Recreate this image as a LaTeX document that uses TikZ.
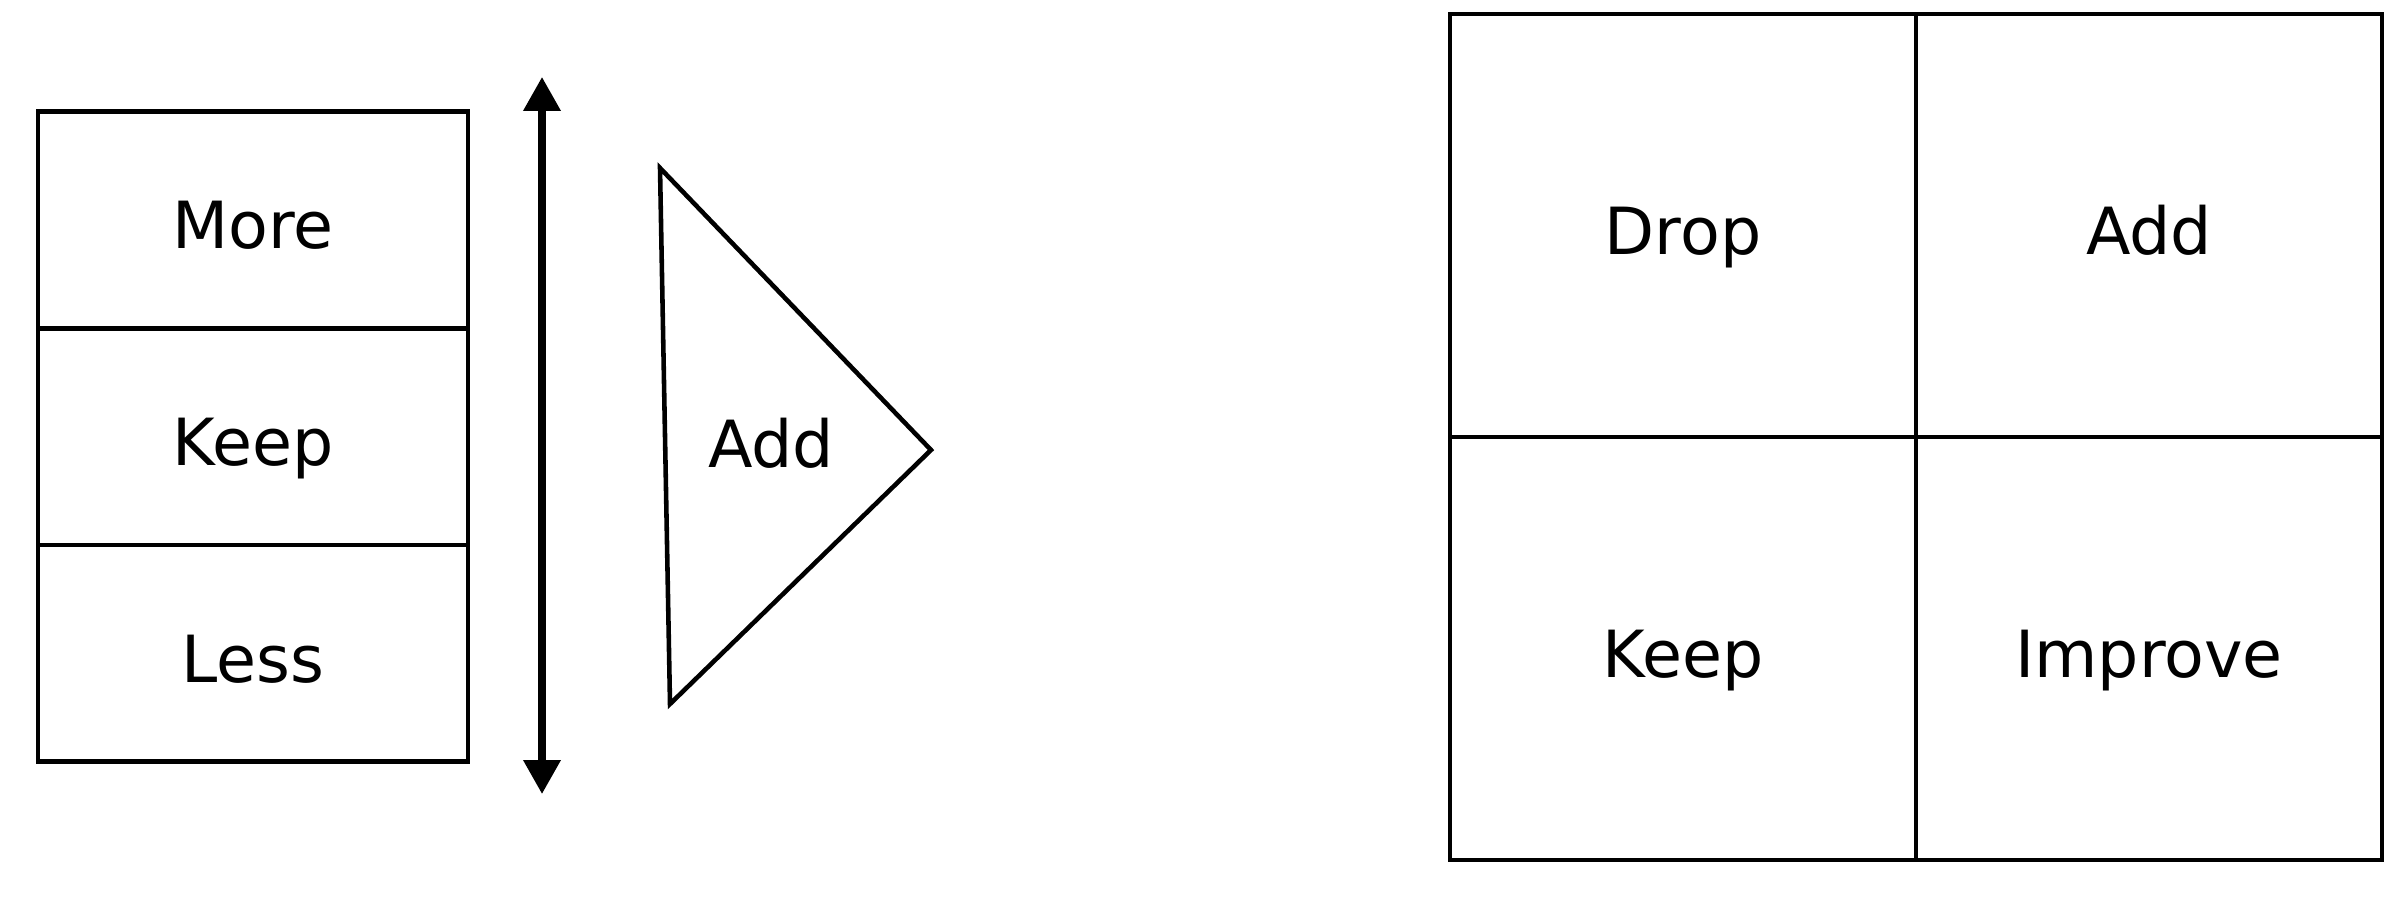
\documentclass[tikz,border=0pt]{standalone}
\usepackage{fontspec}
\setmainfont{DejaVu Sans}
\usetikzlibrary{arrows.meta}
\tikzstyle{cell}=[rectangle,draw=black,line width=1.3pt,inner sep=0pt,
  outer sep=0pt,font=\fontsize{18.5}{22}\selectfont,
  text height=18pt,text depth=1.6pt]
\tikzstyle{sc}=[cell,minimum width=4.3cm,minimum height=2.167cm]
\tikzstyle{qc}=[cell,minimum width=4.66cm,minimum height=4.23cm]
\tikzstyle{lbl}=[inner sep=0pt,font=\fontsize{18.5}{22}\selectfont,
  text height=18pt,text depth=1.6pt]
\tikzstyle{none}=[]

\begin{document}
\begin{tikzpicture}
            \useasboundingbox (0, 0) rectangle (24, 8.98);
            \node [style=sc] (0) at (2.53, 6.78) {More};
            \node [style=sc] (1) at (2.53, 4.613) {Keep};
            \node [style=sc] (2) at (2.53, 2.446) {Less};
            \node [style=none] (3) at (5.42, 8.21) {};
            \node [style=none] (4) at (5.42, 1.04) {};
            \node [style=none] (5) at (6.60, 7.30) {};
            \node [style=none] (6) at (9.31, 4.48) {};
            \node [style=none] (7) at (6.70, 1.94) {};
            \node [style=lbl] (8) at (7.71, 4.59) {Add};
            \node [style=qc] (9) at (16.83, 6.725) {Drop};
            \node [style=qc] (10) at (21.49, 6.725) {Add};
            \node [style=qc] (11) at (16.83, 2.495) {Keep};
            \node [style=qc] (12) at (21.49, 2.495) {Improve};
            \draw [line width=2pt, {Triangle[length=0.34cm,width=0.36cm]}-{Triangle[length=0.34cm,width=0.36cm]}] (3.center) to (4.center);
            \draw [line width=1.3pt] (5.center) -- (6.center) -- (7.center) -- cycle;
    \end{tikzpicture}
\end{document}
